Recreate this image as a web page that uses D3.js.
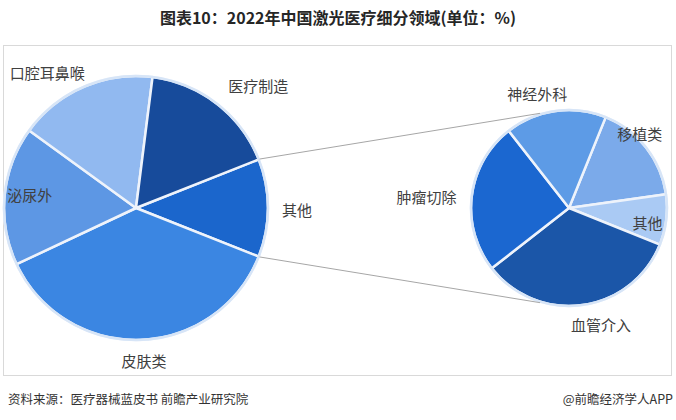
<!DOCTYPE html>
<html>
<head>
<meta charset="utf-8">
<script src="https://cdn.jsdelivr.net/npm/d3@7"></script>
<style>
  html, body { margin: 0; padding: 0; background: #ffffff; }
  svg { display: block; }
</style>
</head>
<body>
<svg id="chart" width="676" height="420"></svg>
<script>
// ---- data ----
const titleText = "图表10：2022年中国激光医疗细分领域(单位：%)";
const sourceText = "资料来源：医疗器械蓝皮书 前瞻产业研究院";
const brandText = "@前瞻经济学人APP";

const mainCats = ["其他", "皮肤类", "泌尿外", "口腔耳鼻喉", "医疗制造"];
const mainVals = [12, 37, 17, 17, 17];
const mainColors = ["#1b66cc", "#3b86e2", "#5d97e4", "#91b9f0", "#174b9b"];

const subCats = ["移植类", "其他", "血管介入", "肿瘤切除", "神经外科"];
const subVals = [2, 1, 4, 3, 2];
const subColors = ["#7baaea", "#aacaf4", "#1b56a8", "#1b67d0", "#5d9be6"];

// label nudges: angular offset (deg) from slice middle, and distance from centre (px)
const mainLabelDa = [0.7, -1.2, 1.6, -9.8, 7.2];
const mainLabelR = [161, 153, 107, 162, 173];
const subLabelDa = [-8.6, 3.8, -7.3, -2.2, -7.5];
const subLabelR = [103, 80, 121, 143, 119];

// ---- layout ----
const svg = d3.select("#chart");
const deg = Math.PI / 180;
const W = 676;

const main = { cx: 136, cy: 208, r: 132 };
const sub = { cx: 569, cy: 208, r: 98 };

// frame
svg.append("rect")
  .attr("x", 3.5).attr("y", 45.5)
  .attr("width", 668).attr("height", 330)
  .attr("fill", "none").attr("stroke", "#d9d9d9").attr("stroke-width", 1);

// title
svg.append("text")
  .attr("x", 338).attr("y", 17)
  .attr("text-anchor", "middle").attr("dominant-baseline", "central")
  .attr("font-family", "'Noto Sans CJK SC', sans-serif")
  .attr("font-weight", "bold").attr("font-size", 16)
  .attr("fill", "#262626")
  .text(titleText);

// main pie
const mainTotal = d3.sum(mainVals);
const otherSpan = mainVals[0] / mainTotal * 2 * Math.PI;
const mainStart = Math.PI / 2 - otherSpan / 2;
const mainPie = d3.pie().sort(null).value(d => d)
  .startAngle(mainStart).endAngle(mainStart + 2 * Math.PI);
const mainArcs = mainPie(mainVals);
const mainArc = d3.arc().innerRadius(0).outerRadius(main.r);

const gMain = svg.append("g").attr("transform", `translate(${main.cx},${main.cy})`);
gMain.selectAll("path").data(mainArcs).join("path")
  .attr("d", mainArc)
  .attr("fill", (d, i) => mainColors[i])
  .attr("stroke", "#eef3fb").attr("stroke-width", 2.5).attr("stroke-linejoin", "round");
gMain.append("circle").attr("r", main.r)
  .attr("fill", "none").attr("stroke", "#d7e5f7").attr("stroke-width", 2.5);

// sub pie
const subStart = 22 * deg;
const subPie = d3.pie().sort(null).value(d => d)
  .startAngle(subStart).endAngle(subStart + 2 * Math.PI);
const subArcs = subPie(subVals);
const subArc = d3.arc().innerRadius(0).outerRadius(sub.r);

const gSub = svg.append("g").attr("transform", `translate(${sub.cx},${sub.cy})`);
gSub.selectAll("path").data(subArcs).join("path")
  .attr("d", subArc)
  .attr("fill", (d, i) => subColors[i])
  .attr("stroke", "#eef3fb").attr("stroke-width", 2.5).attr("stroke-linejoin", "round");
gSub.append("circle").attr("r", sub.r)
  .attr("fill", "none").attr("stroke", "#d7e5f7").attr("stroke-width", 2.5);

// connector lines
const polar = (c, a, r) => [c.cx + r * Math.sin(a), c.cy - r * Math.cos(a)];
const oth = mainArcs[0];
const connA = 17 * deg;
const lines = [
  [polar(main, oth.startAngle, main.r + 1), polar(sub, -connA, sub.r + 1)],
  [polar(main, oth.endAngle, main.r + 1), polar(sub, Math.PI + connA, sub.r + 1)]
];
svg.append("g").selectAll("line").data(lines).join("line")
  .attr("x1", d => d[0][0]).attr("y1", d => d[0][1])
  .attr("x2", d => d[1][0]).attr("y2", d => d[1][1])
  .attr("stroke", "#a6a6a6").attr("stroke-width", 1);

// labels
function addLabels(c, arcs, cats, da, rr) {
  svg.append("g").selectAll("text").data(arcs).join("text")
    .attr("x", (d, i) => polar(c, (d.startAngle + d.endAngle) / 2 + da[i] * deg, rr[i])[0])
    .attr("y", (d, i) => polar(c, (d.startAngle + d.endAngle) / 2 + da[i] * deg, rr[i])[1])
    .attr("text-anchor", "middle").attr("dominant-baseline", "central")
    .attr("font-family", "'Noto Sans CJK SC', sans-serif")
    .attr("font-size", 15).attr("fill", "#404040")
    .text((d, i) => cats[i]);
}
addLabels(main, mainArcs, mainCats, mainLabelDa, mainLabelR);
addLabels(sub, subArcs, subCats, subLabelDa, subLabelR);

// footer
svg.append("text")
  .attr("x", 8).attr("y", 398)
  .attr("dominant-baseline", "central")
  .attr("font-family", "'Noto Sans CJK SC', sans-serif")
  .attr("font-size", 12.5).attr("fill", "#333333")
  .text(sourceText);
svg.append("text")
  .attr("x", W - 3).attr("y", 398)
  .attr("text-anchor", "end").attr("dominant-baseline", "central")
  .attr("font-family", "'Noto Sans CJK SC', sans-serif")
  .attr("font-size", 12.5).attr("fill", "#333333")
  .text(brandText);
</script>
</body>
</html>
